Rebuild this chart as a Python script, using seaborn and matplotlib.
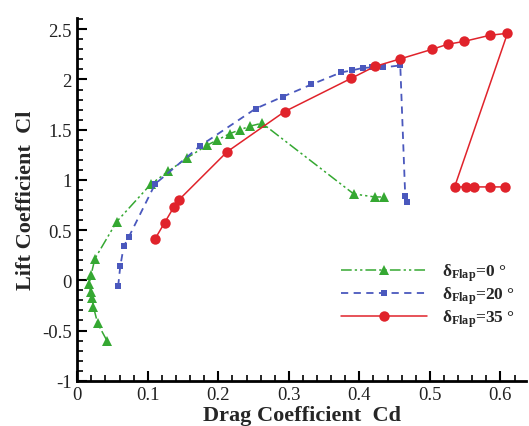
import matplotlib
matplotlib.use("Agg")
import matplotlib.pyplot as plt
from matplotlib.ticker import MultipleLocator
import seaborn as sns
import pandas as pd

# Drag polar (Cd, Cl) for three flap deflections
cd_flap0 = [0.042, 0.029, 0.023, 0.021, 0.019, 0.017, 0.0195, 0.025, 0.056, 0.104,
            0.129, 0.156, 0.184, 0.198, 0.216, 0.231, 0.245, 0.262, 0.392, 0.422, 0.435]
cl_flap0 = [-0.60, -0.43, -0.265, -0.18, -0.115, -0.035, 0.05, 0.215, 0.585, 0.955,
            1.085, 1.22, 1.345, 1.395, 1.46, 1.50, 1.535, 1.565, 0.86, 0.83, 0.83]

cd_flap20 = [0.058, 0.061, 0.066, 0.073, 0.1105, 0.1745, 0.253, 0.292, 0.332,
             0.374, 0.389, 0.405, 0.418, 0.434, 0.458, 0.465, 0.468]
cl_flap20 = [-0.06, 0.14, 0.34, 0.43, 0.96, 1.34, 1.71, 1.83, 1.95,
             2.07, 2.09, 2.115, 2.12, 2.12, 2.14, 0.84, 0.78]

cd_flap35 = [0.1105, 0.124, 0.137, 0.144, 0.2125, 0.294, 0.388, 0.422, 0.458,
             0.503, 0.525, 0.549, 0.585, 0.61, 0.535, 0.551, 0.563, 0.585, 0.606]
cl_flap35 = [0.415, 0.575, 0.73, 0.80, 1.28, 1.68, 2.01, 2.13, 2.205,
             2.30, 2.35, 2.38, 2.44, 2.46, 0.93, 0.93, 0.93, 0.93, 0.93]

series_labels = ["δ$_{\\mathrm{Flap}}$=0 °",
                 "δ$_{\\mathrm{Flap}}$=20 °",
                 "δ$_{\\mathrm{Flap}}$=35 °"]

sns.set_theme(style="ticks")
plt.rcParams["font.family"] = ["Liberation Serif", "DejaVu Serif"]
plt.rcParams["mathtext.fontset"] = "custom"
plt.rcParams["mathtext.rm"] = "Liberation Serif:bold"
plt.rcParams["mathtext.it"] = "Liberation Serif:italic:bold"
plt.rcParams["mathtext.bf"] = "Liberation Serif:bold"

fig = plt.figure(figsize=(5.29, 4.27), dpi=100)
ax = fig.add_axes([0.146, 0.106, 0.848, 0.849])

green, blue, red = "#35a832", "#4a58bd", "#e0232b"

d0 = pd.DataFrame({"Cd": cd_flap0, "Cl": cl_flap0})
d20 = pd.DataFrame({"Cd": cd_flap20, "Cl": cl_flap20})
d35 = pd.DataFrame({"Cd": cd_flap35, "Cl": cl_flap35})

sns.lineplot(data=d0, x="Cd", y="Cl", sort=False, estimator=None, ax=ax,
             color=green, lw=1.1, marker="^", markersize=7, markeredgewidth=0,
             label=series_labels[0])
ax.lines[-1].set_dashes([7, 2, 1.5, 2, 1.5, 2])

sns.lineplot(data=d20, x="Cd", y="Cl", sort=False, estimator=None, ax=ax,
             color=blue, lw=1.3, marker="s", markersize=5, markeredgewidth=0,
             label=series_labels[1])
ax.lines[-1].set_dashes([4, 3])

sns.lineplot(data=d35, x="Cd", y="Cl", sort=False, estimator=None, ax=ax,
             color=red, lw=1.1, marker="o", markersize=7.5, markeredgewidth=0,
             label=series_labels[2])

ax.set_xlim(0, 0.636)
ax.set_ylim(-1, 2.61)
ax.xaxis.set_minor_locator(MultipleLocator(0.02))
ax.yaxis.set_minor_locator(MultipleLocator(0.1))
ax.set_xticks([0, 0.1, 0.2, 0.3, 0.4, 0.5, 0.6])
ax.set_xticklabels(["0", "0.1", "0.2", "0.3", "0.4", "0.5", "0.6"])
ax.set_yticks([-1, -0.5, 0, 0.5, 1, 1.5, 2, 2.5])
ax.set_yticklabels(["-1", "-0.5", "0", "0.5", "1", "1.5", "2", "2.5"])

ax.tick_params(which="major", direction="in", length=7, width=1.5,
               labelsize=13.5, color="black", labelcolor="#222222", pad=4)
ax.tick_params(which="minor", direction="in", length=4, width=1.2, color="black")
for side in ("top", "right"):
    ax.spines[side].set_visible(False)
for side in ("left", "bottom"):
    ax.spines[side].set_linewidth(2)
    ax.spines[side].set_color("black")

ax.set_xlabel("Drag Coefficient  Cd", fontsize=16, fontweight="bold", labelpad=1)
ax.set_ylabel("Lift Coefficient  Cl", fontsize=16, fontweight="bold", labelpad=4)

leg = ax.legend(loc="upper left", bbox_to_anchor=(0.56, 0.362), frameon=False,
                handlelength=5.0, handletextpad=0.85, labelspacing=0.08,
                borderpad=0.2,
                prop={"family": "Liberation Serif", "weight": "bold", "size": 12.5})

fig.savefig("out.png", dpi=100)
